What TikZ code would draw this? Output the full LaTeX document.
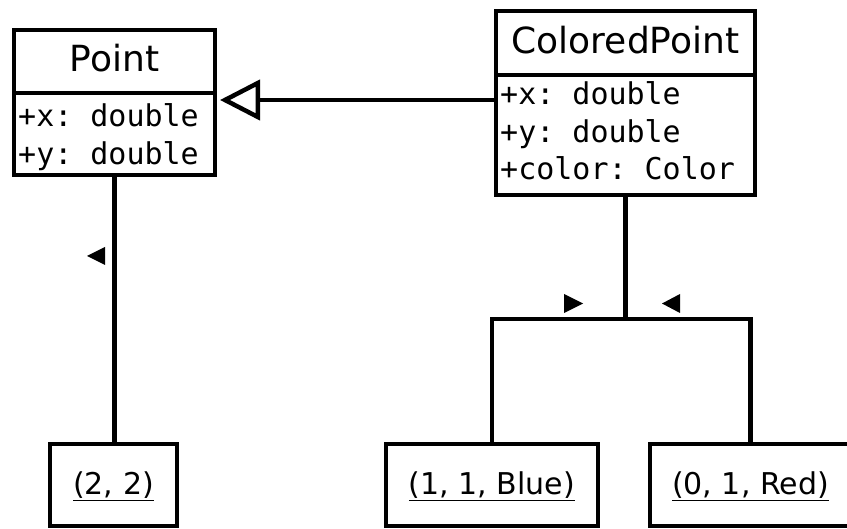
\documentclass[tikz,border=0pt]{standalone}
\usepackage{fontspec}
\setmainfont{DejaVu Sans}
\setmonofont{DejaVu Sans Mono}
\usetikzlibrary{calc,arrows.meta}
\begin{document}
\begin{tikzpicture}[x=1pt,y=-1pt,
  frame/.style={draw=black, line width=4.5pt, inner sep=0pt, outer sep=0pt},
  classname/.style={inner sep=0pt, anchor=base, font=\fontsize{36}{40}\selectfont},
  attr/.style={inner sep=0pt, anchor=base west, font=\fontsize{30}{37}\ttfamily},
  object/.style={frame, minimum height=82pt, text height=20pt, text depth=0pt,
                 font=\fontsize{30}{34}\selectfont},
  wire/.style={line width=4.5pt, line join=miter},
  marker/.style={fill=black}]
\useasboundingbox (0,0) rectangle (847,529);

% class Point
\node[frame, minimum width=201pt, minimum height=63pt] (ptHead) at (114.5,61.5) {};
\node[frame, minimum width=201pt, minimum height=82pt] (ptBody) at (114.5,134) {};
\node[classname] (ptName) at (114.5,71.7) {Point};
\node[attr] (ptX) at (18,127) {+x: double};
\node[attr] (ptY) at (18,165) {+y: double};

% class ColoredPoint
\node[frame, minimum width=259pt, minimum height=64pt] (cpHead) at (625.5,43) {};
\node[frame, minimum width=259pt, minimum height=120pt] (cpBody) at (625.5,135) {};
\node[classname] (cpName) at (625.5,53.3) {ColoredPoint};
\node[attr] (cpX) at (500,105) {+x: double};
\node[attr] (cpY) at (500,143) {+y: double};
\node[attr] (cpC) at (500,180) {+color: Color};

% object instances
\node[object, minimum width=127pt] (obj22) at (113.5,485) {\underline{(2, 2)}};
\node[object, minimum width=212pt] (objBlue) at (492,485) {\underline{(1, 1, Blue)}};
\node[object, minimum width=201pt] (objRed) at (750.5,485) {\underline{(0, 1, Red)}};

% generalization ColoredPoint -> Point
\coordinate (genS) at ($(cpBody.north west)+(0,25)$);
\draw[wire, -{Triangle[open, length=40pt, width=40pt]}, shorten >=5pt]
  (genS) -- (genS -| ptBody.east);

% instance links
\draw[wire] (ptBody.south) -- (ptBody.south |- obj22.north);
\coordinate (fork) at ($(cpBody.south)+(0,124)$);
\draw[wire] (cpBody.south) -- (fork);
\draw[wire] (objBlue.north) |- (fork) -| (objRed.north);

% reading-direction markers
\fill[marker] (87,256) -- (105,247) -- (105,265) -- cycle;
\fill[marker] (583,303.5) -- (564,294) -- (564,313) -- cycle;
\fill[marker] (662,303.5) -- (680,294) -- (680,313) -- cycle;
\end{tikzpicture}
\end{document}
